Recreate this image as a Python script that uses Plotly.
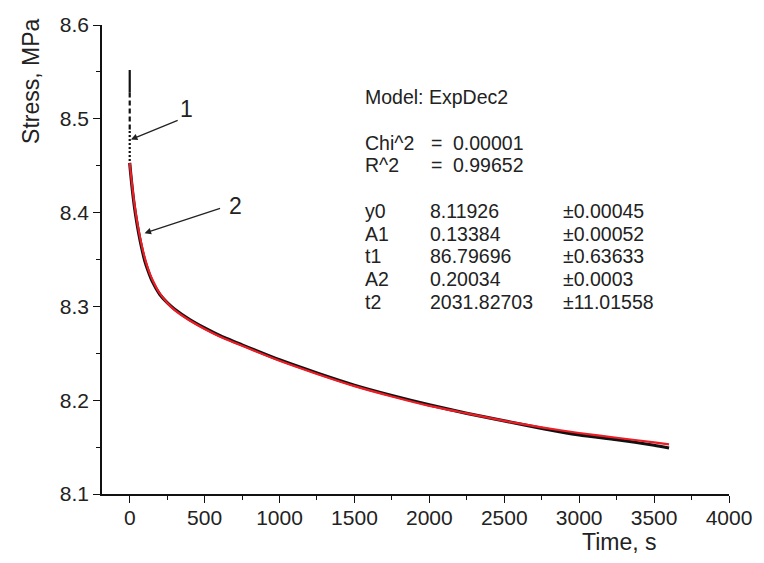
import plotly.graph_objects as go

# ---- data ----
time_s = [0, 5, 10, 20, 30, 40, 50, 60, 75, 100, 125, 150, 200, 250, 300, 400, 500, 600,
          750, 1000, 1250, 1500, 1750, 2000, 2250, 2500, 2750, 3000, 3250, 3500, 3600]
stress_measured = [8.453, 8.444, 8.436, 8.421, 8.408, 8.397, 8.387, 8.378, 8.366, 8.349, 8.337,
                   8.327, 8.313, 8.304, 8.297, 8.286, 8.277, 8.269, 8.259, 8.243, 8.229, 8.216,
                   8.205, 8.195, 8.186, 8.178, 8.170, 8.163, 8.158, 8.152, 8.149]
stress_fit = [8.453, 8.445, 8.438, 8.424, 8.411, 8.400, 8.390, 8.381, 8.369, 8.352, 8.339,
              8.329, 8.314, 8.304, 8.296, 8.285, 8.276, 8.268, 8.258, 8.242, 8.228, 8.215,
              8.204, 8.194, 8.186, 8.178, 8.171, 8.165, 8.160, 8.155, 8.153]
# loading stage at t = 0 (sparse points drawn as solid / dashed / dotted pieces)
loading_time = [0, 0, 0, 0]
loading_stress = [8.552, 8.528, 8.487, 8.453]

x_ticks = [0, 500, 1000, 1500, 2000, 2500, 3000, 3500, 4000]
y_ticks = [8.1, 8.2, 8.3, 8.4, 8.5, 8.6]

fit_rows = [
    ("y0", "8.11926", "±0.00045"),
    ("A1", "0.13384", "±0.00052"),
    ("t1", "86.79696", "±0.63633"),
    ("A2", "0.20034", "±0.0003"),
    ("t2", "2031.82703", "±11.01558"),
]
stat_rows = [("Chi^2", "0.00001"), ("R^2", "0.99652")]

W, H = 764, 563
L, R, T, B = 102, 27, 25, 69
PW, PH = W - L - R, H - T - B


def px(x):
    return (x - L) / PW


def py(y):
    return (H - B - y) / PH


FONT = "Liberation Sans, Arial, sans-serif"
INK = "#222222"

fig = go.Figure()
dash_styles = ["solid", "5px,3px", "2px,2px"]
for i, d in enumerate(dash_styles):
    fig.add_trace(go.Scatter(x=loading_time[i:i + 2], y=loading_stress[i:i + 2], mode="lines",
                             line=dict(color="#111111", width=2.2, dash=d)))
fig.add_trace(go.Scatter(x=time_s, y=stress_measured, mode="lines",
                         line=dict(color="#111111", width=3.2, shape="spline", smoothing=0.6)))
fig.add_trace(go.Scatter(x=time_s, y=stress_fit, mode="lines",
                         line=dict(color="#ee1c25", width=2.2, shape="spline", smoothing=0.6)))

ann = []
ann.append(dict(x=8, y=8.478, ax=330, ay=8.499, axref="x", ayref="y", xref="x", yref="y",
                text="", showarrow=True, arrowhead=2, arrowsize=1, arrowwidth=1.3,
                arrowcolor=INK))
ann.append(dict(x=382, y=8.510, xref="x", yref="y", text="1", showarrow=False,
                font=dict(size=23, color=INK, family=FONT)))
ann.append(dict(x=99, y=8.378, ax=613, ay=8.405, axref="x", ayref="y", xref="x", yref="y",
                text="", showarrow=True, arrowhead=2, arrowsize=1, arrowwidth=1.3,
                arrowcolor=INK))
ann.append(dict(x=705, y=8.407, xref="x", yref="y", text="2", showarrow=False,
                font=dict(size=23, color=INK, family=FONT)))

tf = dict(size=19.5, color=INK, family=FONT)


def txt(x, y, s):
    ann.append(dict(x=px(x), y=py(y), xref="paper", yref="paper", text=s, showarrow=False,
                    xanchor="left", yanchor="middle", font=tf))


txt(366, 97, "Model: ExpDec2")
for i, (a, b) in enumerate(stat_rows):
    yy = 143 + 22.5 * i
    txt(366, yy, a)
    txt(433, yy, "=")
    txt(455, yy, b)
for i, (a, b, c) in enumerate(fit_rows):
    yy = 211 + 22.7 * i
    txt(366, yy, a)
    txt(432, yy, b)
    txt(567, yy, c)

ann.append(dict(x=px(30), y=py(81), xref="paper", yref="paper", text="Stress, MPa",
                textangle=-90, showarrow=False, xanchor="center", yanchor="middle",
                font=dict(size=23, color=INK, family=FONT)))
ann.append(dict(x=px(626), y=py(542), xref="paper", yref="paper", text="Time, s",
                showarrow=False, xanchor="center", yanchor="middle",
                font=dict(size=23, color=INK, family=FONT)))

axis_common = dict(showgrid=False, zeroline=False, showline=True, linecolor="#111111",
                   linewidth=1.6, ticks="outside", ticklen=7, tickwidth=1.4,
                   tickcolor="#111111", tickfont=dict(size=21, color=INK, family=FONT))

fig.update_layout(
    width=W, height=H, margin=dict(l=L, r=R, t=T, b=B),
    paper_bgcolor="white", plot_bgcolor="white", showlegend=False,
    xaxis=dict(range=[-185, 4000], tickvals=x_ticks, ticktext=[str(v) for v in x_ticks],
               ticklabelstandoff=-3,
               minor=dict(dtick=250, tick0=0, ticks="outside", ticklen=4, tickwidth=1.2,
                          tickcolor="#111111", showgrid=False),
               **axis_common),
    yaxis=dict(range=[8.1, 8.6], tickvals=y_ticks, ticktext=[f"{v:.1f}" for v in y_ticks],
               minor=dict(dtick=0.05, tick0=8.1, ticks="outside", ticklen=4, tickwidth=1.2,
                          tickcolor="#111111", showgrid=False),
               **axis_common),
    annotations=ann,
)

fig.write_html("out.html")
